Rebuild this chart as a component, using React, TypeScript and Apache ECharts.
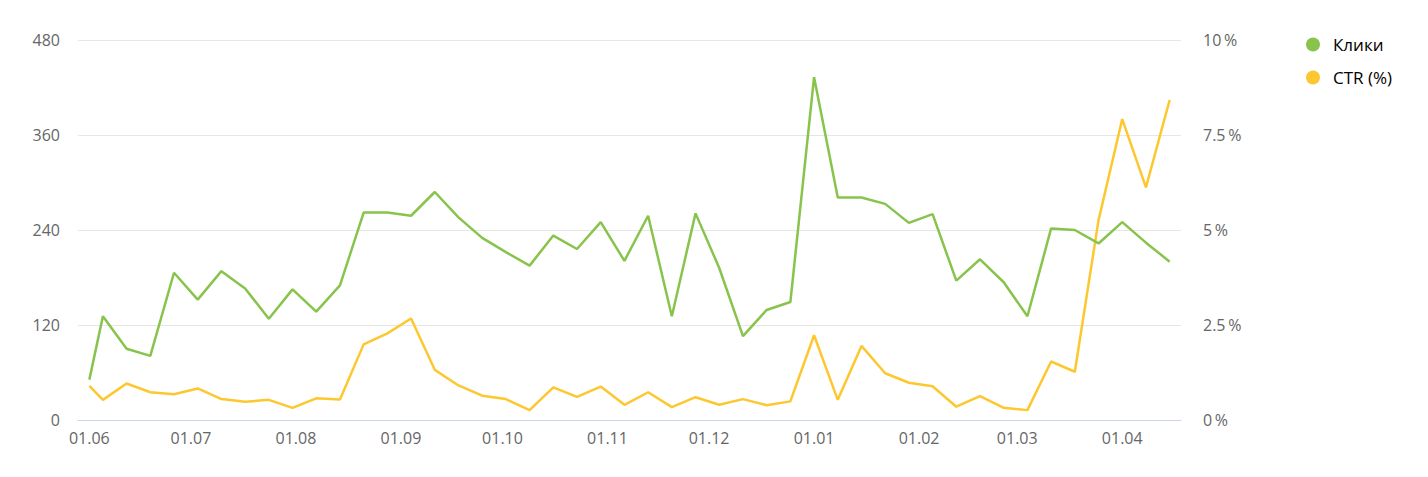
import React, { useEffect, useRef } from "react";
import * as echarts from "echarts";

const dates: string[] = [
  "2023-06-01", "2023-06-05", "2023-06-12", "2023-06-19", "2023-06-26",
  "2023-07-03", "2023-07-10", "2023-07-17", "2023-07-24", "2023-07-31",
  "2023-08-07", "2023-08-14", "2023-08-21", "2023-08-28",
  "2023-09-04", "2023-09-11", "2023-09-18", "2023-09-25",
  "2023-10-02", "2023-10-09", "2023-10-16", "2023-10-23", "2023-10-30",
  "2023-11-06", "2023-11-13", "2023-11-20", "2023-11-27",
  "2023-12-04", "2023-12-11", "2023-12-18", "2023-12-25",
  "2024-01-01", "2024-01-08", "2024-01-15", "2024-01-22", "2024-01-29",
  "2024-02-05", "2024-02-12", "2024-02-19", "2024-02-26",
  "2024-03-04", "2024-03-11", "2024-03-18", "2024-03-25",
  "2024-04-01", "2024-04-08", "2024-04-15",
];

const clicks: number[] = [
  51, 131, 90, 81, 186, 152, 188, 166, 128, 165,
  137, 170, 262, 262, 258, 288, 256, 230, 212, 195,
  233, 216, 250, 201, 258, 131, 261, 192, 106, 139,
  149, 433, 281, 281, 273, 249, 260, 176, 203, 174,
  131, 242, 240, 223, 250, 224, 200,
];

const ctr: number[] = [
  0.9, 0.53, 0.96, 0.73, 0.68, 0.83, 0.55, 0.48, 0.53, 0.32,
  0.57, 0.54, 1.99, 2.28, 2.67, 1.32, 0.91, 0.64, 0.55, 0.26,
  0.86, 0.61, 0.88, 0.4, 0.73, 0.34, 0.6, 0.4, 0.55, 0.39,
  0.49, 2.23, 0.53, 1.95, 1.23, 0.98, 0.89, 0.35, 0.63, 0.32,
  0.26, 1.54, 1.27, 5.26, 7.92, 6.12, 8.42,
];

const leftTicks = { min: 0, max: 480, interval: 120 };
const rightTicks = { min: 0, max: 10, interval: 2.5 };

const seriesNames = ["Клики", "CTR (%)"];

function toTime(s: string): number {
  const [y, m, d] = s.split("-").map(Number);
  return new Date(y, m - 1, d).getTime();
}

const DAY = 86400000;
const FONT = "'Open Sans', 'Noto Sans', sans-serif";

export default function App() {
  const ref = useRef<HTMLDivElement>(null);
  useEffect(() => {
    if (!ref.current) return;
    const chart = echarts.init(ref.current, undefined, { renderer: "svg" });
    const times = dates.map(toTime);
    const pad = 3.35 * DAY;
    chart.setOption({
      animation: false,
      textStyle: { fontFamily: FONT },
      grid: { left: 78, right: 247, top: 40, bottom: 57 },
      legend: {
        orient: "vertical",
        left: 1301,
        top: 31,
        icon: "circle",
        itemWidth: 14,
        itemHeight: 14,
        itemGap: 16,
        textStyle: { color: "#000", fontSize: 17, fontFamily: FONT, padding: [0, 0, 0, 8] },
        data: seriesNames,
      },
      xAxis: {
        type: "time",
        min: times[0] - pad,
        max: times[times.length - 1] + pad,
        minInterval: 28 * DAY,
        maxInterval: 31 * DAY,
        axisLine: { show: true, lineStyle: { color: "#ccd6eb", width: 1 } },
        axisTick: { show: false },
        splitLine: { show: false },
        axisLabel: {
          color: "#666",
          fontSize: 16,
          margin: 10,
          showMinLabel: false,
          showMaxLabel: false,
          hideOverlap: false,
          formatter: (v: number) => {
            const d = new Date(v);
            const dd = String(d.getDate()).padStart(2, "0");
            const mm = String(d.getMonth() + 1).padStart(2, "0");
            return `${dd}.${mm}`;
          },
        },
      },
      yAxis: [
        {
          type: "value",
          ...leftTicks,
          axisLine: { show: false },
          axisTick: { show: false },
          splitLine: { lineStyle: { color: "#e6e6e6", width: 1 } },
          axisLabel: { color: "#666", fontSize: 16, margin: 18 },
        },
        {
          type: "value",
          ...rightTicks,
          position: "right",
          axisLine: { show: false },
          axisTick: { show: false },
          splitLine: { show: false },
          axisLabel: {
            color: "#666",
            fontSize: 16,
            margin: 22,
            formatter: (v: number) => `${v}\u2009%`,
          },
        },
      ],
      series: [
        {
          name: seriesNames[0],
          type: "line",
          yAxisIndex: 0,
          showSymbol: false,
          symbol: "circle",
          color: "#88c34c",
          lineStyle: { width: 2.5, color: "#88c34c" },
          data: times.map((t, i) => [t, clicks[i]]),
          z: 3,
        },
        {
          name: seriesNames[1],
          type: "line",
          yAxisIndex: 1,
          showSymbol: false,
          symbol: "circle",
          color: "#fdc72f",
          lineStyle: { width: 2.5, color: "#fdc72f" },
          data: times.map((t, i) => [t, ctr[i]]),
          z: 2,
        },
      ],
    });
    return () => chart.dispose();
  }, []);
  return (
    <div
      ref={ref}
      style={{ position: "fixed", left: 0, top: 0, width: 1428, height: 477, background: "#fff" }}
    />
  );
}
